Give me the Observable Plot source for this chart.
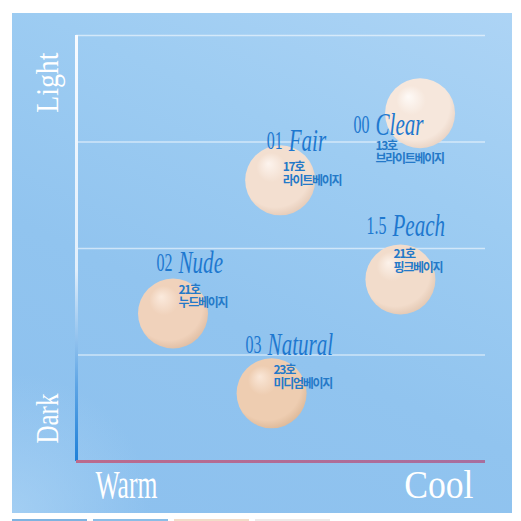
<!DOCTYPE html>
<html lang="ko"><head><meta charset="utf-8">
<script src="https://cdn.jsdelivr.net/npm/d3@7"></script>
<script src="https://cdn.jsdelivr.net/npm/@observablehq/plot@0.6"></script>
<style>
html,body{margin:0;padding:0;background:#fff;overflow:hidden;width:521px;height:521px;}
#wrap{position:relative;width:521px;height:521px;}
#panel{position:absolute;left:12px;top:13px;width:500px;height:500px;
 background:
  radial-gradient(circle at 0% 100%, rgba(172,212,245,0.7) 0, rgba(172,212,245,0) 140px),
  linear-gradient(205deg,#add4f5 0%,#9dccf2 30%,#91c4ef 60%,#8cc0ee 100%);}
#chart{position:absolute;left:0;top:0;}
.thumb{position:absolute;top:519px;height:2px;width:75px;}
</style></head>
<body>
<div id="wrap">
  <div id="panel"></div>
  <div class="thumb" style="left:12px;background:#7fb3e0"></div>
  <div class="thumb" style="left:93px;background:#8bbde6"></div>
  <div class="thumb" style="left:174px;background:#f2dcc8"></div>
  <div class="thumb" style="left:255px;background:#eeeae8"></div>
  <div id="chart"></div>
</div>
<script>
// ---- data ----
const shades = ["00 Clear", "01 Fair", "1.5 Peach", "02 Nude", "03 Natural"];
const numbers = ["00", "01", "1.5", "02", "03"];
const names = ["Clear", "Fair", "Peach", "Nude", "Natural"];
const codes = ["13호", "17호", "21호", "21호", "23호"];
const koNames = ["브라이트베이지", "라이트베이지", "핑크베이지", "누드베이지", "미디엄베이지"];
const warmCool = [84.0, 49.8, 79.2, 23.6, 47.7];   // 0 = warm, 100 = cool
const lightness = [3.27, 2.64, 1.71, 1.39, 0.64];  // 0 = dark, 4 = light
const yGridTicks = [1, 2, 3, 4];
const yAxisLabels = ["Light", "Dark"];
const xAxisLabels = ["Warm", "Cool"];

// ---- layout / style ----
const labelLayout = [
  {nx: -44.5, ny: 21.5, kx: -44.5, ky: 27},
  {nx: 8.5, ny: -29, kx: 2.5, ky: -18.5},
  {nx: -8, ny: -43, kx: -7, ky: -30.5},
  {nx: 5.5, ny: -40, kx: 5.5, ky: -29.5},
  {nx: -4, ny: -38, kx: 2, ky: -28.5}
];
const swatchColors = [
  ["#fefaf7", "#f6e7dc", "#e9d3c4"],
  ["#fdf4ee", "#f3dfd0", "#e5cbb8"],
  ["#fcf2ea", "#f2dccb", "#e3c8b3"],
  ["#fbeadd", "#f0d2bb", "#e0bea4"],
  ["#fae7d8", "#eecdb1", "#ddb999"]
];
const blue = "#1e78cf";
const idx = shades.map((_, i) => i);

const serif = "'Liberation Serif', 'DejaVu Serif', serif";
const marks = [
  Plot.gridY(yGridTicks, {stroke: "#ffffff", strokeOpacity: 0.55, strokeWidth: 1.5}),
  Plot.ruleX([0], {stroke: "url(#yAxisGrad)", strokeWidth: 3}),
  Plot.ruleY([0], {stroke: "url(#xAxisGrad)", strokeWidth: 3}),
  Plot.dot(idx, {x: i => warmCool[i], y: i => lightness[i], r: 35, fill: i => shades[i], stroke: "none"}),
  // axis words (text marks 0..3)
  Plot.text([yAxisLabels[0]], {frameAnchor: "top-left", text: d => d, rotate: -90, textAnchor: "end", lineAnchor: "bottom",
    dx: -19, dy: 17, fontSize: 32, fontFamily: serif, fill: "#ffffff"}),
  Plot.text([yAxisLabels[1]], {frameAnchor: "bottom-left", text: d => d, rotate: -90, textAnchor: "start", lineAnchor: "bottom",
    dx: -19, dy: -18, fontSize: 32, fontFamily: serif, fill: "#ffffff"}),
  Plot.text([xAxisLabels[0]], {frameAnchor: "bottom-left", text: d => d, textAnchor: "start", lineAnchor: "bottom",
    dx: 19, dy: 36, fontSize: 40, fontFamily: serif, fill: "#ffffff"}),
  Plot.text([xAxisLabels[1]], {frameAnchor: "bottom-right", text: d => d, textAnchor: "end", lineAnchor: "bottom",
    dx: -12, dy: 36, fontSize: 40, fontFamily: serif, fill: "#ffffff"})
];
const condenseFactors = [0.87, 0.78, 0.64, 0.89];

idx.forEach(i => {
  const L = labelLayout[i];
  marks.push(
    Plot.text([i], {x: d => warmCool[d], y: d => lightness[d], text: d => numbers[d], textAnchor: "end", lineAnchor: "bottom",
      dx: L.nx - 6, dy: L.ny - 2, fontSize: 25, fontFamily: serif, fill: blue}),
    Plot.text([i], {x: d => warmCool[d], y: d => lightness[d], text: d => names[d], textAnchor: "start", lineAnchor: "bottom",
      dx: L.nx, dy: L.ny, fontSize: 31, fontStyle: "italic", fontFamily: serif, fill: blue}),
    Plot.text([i], {x: d => warmCool[d], y: d => lightness[d], text: d => codes[d] + "\n" + koNames[d], textAnchor: "start",
      lineAnchor: "top", lineHeight: 1.12, dx: L.kx, dy: L.ky, fontSize: 12, fontWeight: 700,
      fontFamily: "'Noto Sans CJK KR', 'Noto Sans', sans-serif", fill: "#2479c8"})
  );
  condenseFactors.push(0.64, 0.68, null);
});

const plot = Plot.plot({
  width: 521,
  height: 521,
  marginLeft: 76,
  marginRight: 36,
  marginTop: 35,
  marginBottom: 60,
  x: {domain: [0, 100], axis: null},
  y: {domain: [0, 4], axis: null},
  color: {domain: shades, range: idx.map(i => `url(#swatch${i})`)},
  style: {background: "transparent", overflow: "visible"},
  marks
});

const svg = d3.select(plot);
const defs = svg.insert("defs", ":first-child");
const xr = plot.scale("x").range, yr = plot.scale("y").range;
const yg = defs.append("linearGradient").attr("id", "yAxisGrad").attr("gradientUnits", "userSpaceOnUse")
  .attr("x1", 0).attr("x2", 0).attr("y1", Math.min(...yr)).attr("y2", Math.max(...yr));
yg.append("stop").attr("offset", 0).attr("stop-color", "#f8fbff");
yg.append("stop").attr("offset", 0.55).attr("stop-color", "#e2effb");
yg.append("stop").attr("offset", 0.82).attr("stop-color", "#5ea5e5");
yg.append("stop").attr("offset", 1).attr("stop-color", "#1f80d8");
const xg = defs.append("linearGradient").attr("id", "xAxisGrad").attr("gradientUnits", "userSpaceOnUse")
  .attr("y1", 0).attr("y2", 0).attr("x1", Math.min(...xr)).attr("x2", Math.max(...xr));
xg.append("stop").attr("offset", 0).attr("stop-color", "#bb6a8c");
xg.append("stop").attr("offset", 1).attr("stop-color", "#a86e9e");
swatchColors.forEach((c, i) => {
  const g = defs.append("radialGradient").attr("id", `swatch${i}`)
    .attr("cx", "0.45").attr("cy", "0.42").attr("r", "0.6").attr("fx", "0.33").attr("fy", "0.26");
  g.append("stop").attr("offset", 0).attr("stop-color", c[0]);
  g.append("stop").attr("offset", 0.35).attr("stop-color", c[1]);
  g.append("stop").attr("offset", 0.82).attr("stop-color", c[1]);
  g.append("stop").attr("offset", 1).attr("stop-color", c[2]);
});

// horizontal condensing of the serif texts (text mark groups in mark order)
const textGroups = svg.selectAll('g[aria-label="text"]').nodes();
textGroups.forEach((g, k) => {
  const s = condenseFactors[k];
  if (!s) return;
  d3.select(g).selectAll("text").each(function () {
    const t = this.getAttribute("transform");
    if (t && t.includes("translate")) {
      this.setAttribute("transform", t + ` scale(${s},1)`);
    } else {
      const x = +this.getAttribute("x") || 0, y = +this.getAttribute("y") || 0;
      this.removeAttribute("x"); this.removeAttribute("y");
      this.setAttribute("transform", `translate(${x},${y}) ${t || ""} scale(${s},1)`);
    }
  });
});
svg.selectAll(`g[aria-label="text"] text`).filter(function () { return /[가-힣]/.test(this.textContent); })
  .style("letter-spacing", "-1.3px");

document.getElementById("chart").appendChild(plot);
</script>
</body></html>
